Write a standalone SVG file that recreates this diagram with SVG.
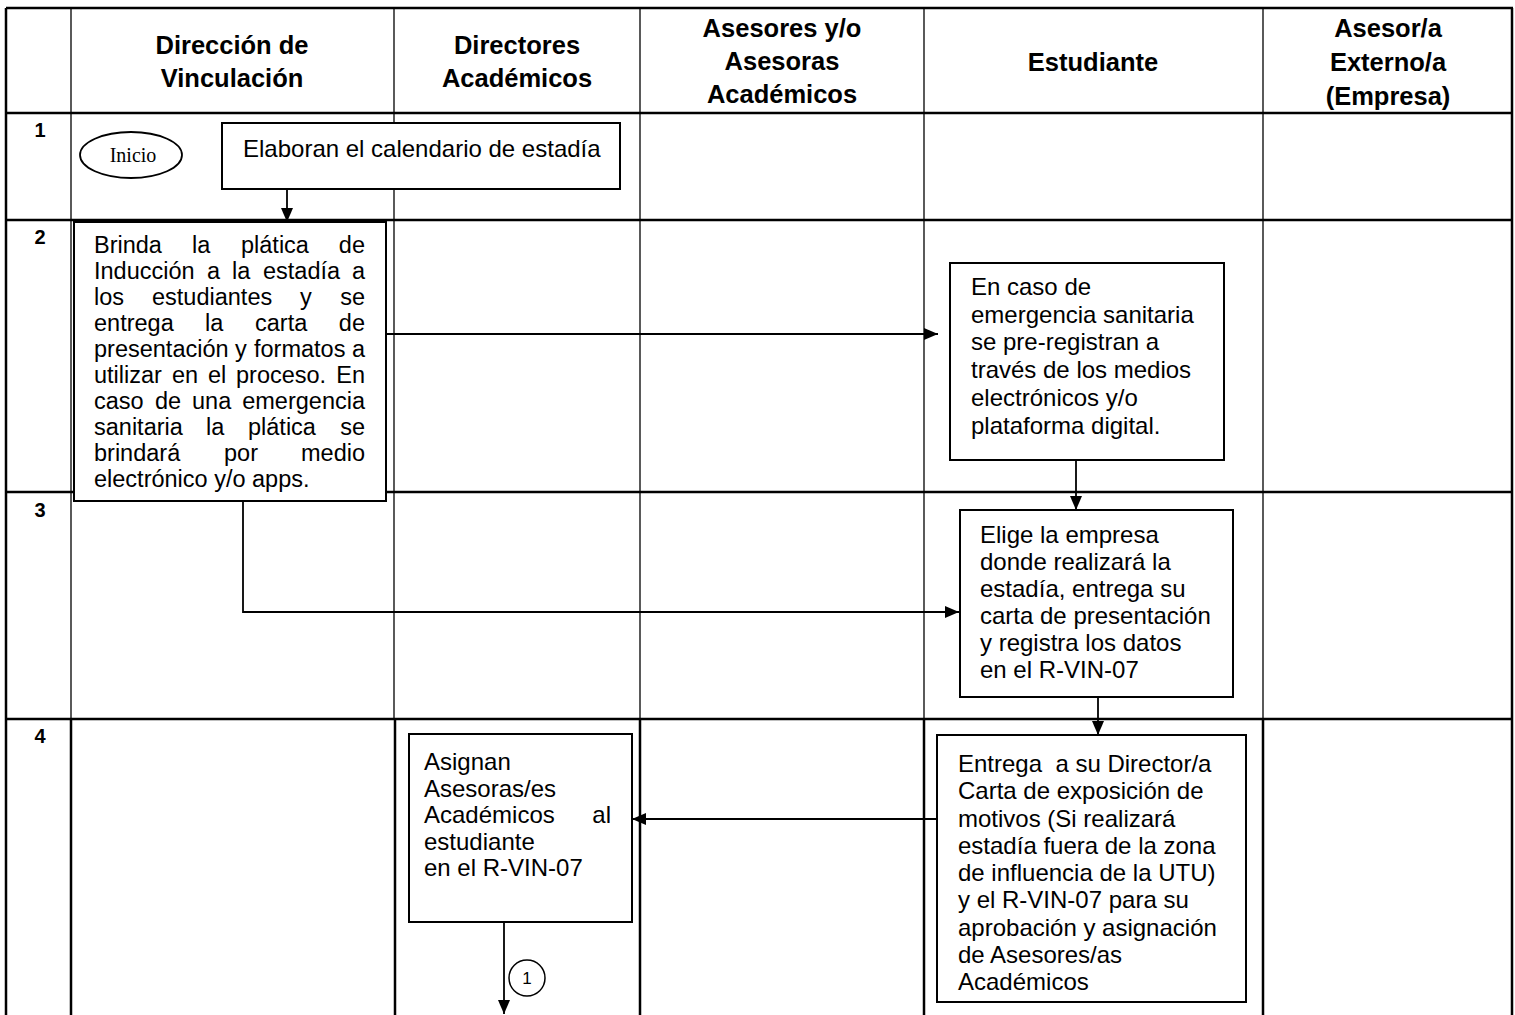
<svg xmlns="http://www.w3.org/2000/svg" width="1515" height="1015" viewBox="0 0 1515 1015">
<style>
.hd{font-family:"Liberation Sans",Arial,sans-serif;font-weight:bold;font-size:25.5px;text-anchor:middle;fill:#000}
.num{font-family:"Liberation Sans",Arial,sans-serif;font-weight:bold;font-size:20px;text-anchor:middle;fill:#000}
.tx{font-family:"Liberation Sans",Arial,sans-serif;font-size:24px;fill:#000}
.tj{font-family:"Liberation Sans",Arial,sans-serif;font-size:23.5px;fill:#000}
.e{text-anchor:end}
.box{fill:#fff;stroke:#000;stroke-width:2}
.hl{stroke:#000;stroke-width:2.5}
.vl{stroke:#000;stroke-width:1.3}
.vt{stroke:#000;stroke-width:2.5}
.cn{fill:none;stroke:#000;stroke-width:1.8}
</style>
<defs>
<marker id="ah" markerWidth="14" markerHeight="12" refX="14" refY="6" orient="auto" markerUnits="userSpaceOnUse"><path d="M0,0 L14,6 L0,12 z" fill="#000"/></marker>
</defs>
<rect width="1515" height="1015" fill="#fff"/>
<g id="grid">
<line class="hl" x1="6" y1="8" x2="1513" y2="8"/>
<line class="hl" x1="6" y1="113" x2="1513" y2="113"/>
<line class="hl" x1="6" y1="220" x2="1513" y2="220"/>
<line class="hl" x1="6" y1="492" x2="1513" y2="492"/>
<line class="hl" x1="6" y1="719" x2="1513" y2="719"/>
<line class="vt" x1="6" y1="8" x2="6" y2="1015"/>
<line class="vt" x1="1512" y1="8" x2="1512" y2="1015"/>
<line class="vl" x1="71" y1="8" x2="71" y2="719"/>
<line class="vl" x1="394" y1="8" x2="394" y2="719"/>
<line class="vl" x1="640" y1="8" x2="640" y2="719"/>
<line class="vl" x1="924" y1="8" x2="924" y2="719"/>
<line class="vl" x1="1263" y1="8" x2="1263" y2="719"/>
<line class="vt" x1="71" y1="719" x2="71" y2="1015"/>
<line class="vt" x1="395" y1="719" x2="395" y2="1015"/>
<line class="vt" x1="640" y1="719" x2="640" y2="1015"/>
<line class="vt" x1="924" y1="719" x2="924" y2="1015"/>
<line class="vt" x1="1263" y1="719" x2="1263" y2="1015"/>
<text class="hd" x="232" y="54">Dirección de</text>
<text class="hd" x="232" y="87">Vinculación</text>
<text class="hd" x="517" y="54">Directores</text>
<text class="hd" x="517" y="87">Académicos</text>
<text class="hd" x="782" y="37">Asesores y/o</text>
<text class="hd" x="782" y="70">Asesoras</text>
<text class="hd" x="782" y="103">Académicos</text>
<text class="hd" x="1093" y="71">Estudiante</text>
<text class="hd" x="1388" y="37">Asesor/a</text>
<text class="hd" x="1388" y="71">Externo/a</text>
<text class="hd" x="1388" y="105">(Empresa)</text>
<text class="num" x="40" y="137">1</text>
<text class="num" x="40" y="244">2</text>
<text class="num" x="40" y="517">3</text>
<text class="num" x="40" y="743">4</text>
</g>
<g id="connectors">
<line class="cn" x1="287" y1="190" x2="287" y2="222" marker-end="url(#ah)"/>
<line class="cn" x1="386" y1="334" x2="938" y2="334" marker-end="url(#ah)"/>
<polyline class="cn" points="243,501 243,612 959,612" marker-end="url(#ah)"/>
<line class="cn" x1="1076" y1="460" x2="1076" y2="510" marker-end="url(#ah)"/>
<line class="cn" x1="1098" y1="697" x2="1098" y2="735" marker-end="url(#ah)"/>
<line class="cn" x1="937" y1="819" x2="632" y2="819" marker-end="url(#ah)"/>
<line class="cn" x1="504" y1="922" x2="504" y2="1014" marker-end="url(#ah)"/>
</g>
<g id="inicio">
<ellipse cx="131" cy="155" rx="51" ry="23" fill="#fff" stroke="#000" stroke-width="1.8"/>
<text x="133" y="162" text-anchor="middle" style="font-family:'Liberation Serif','Times New Roman',serif;font-size:20px">Inicio</text>
</g>
<g id="calendario">
<rect class="box" x="222" y="123" width="398" height="66"/>
<text class="tx" x="243" y="157">Elaboran el calendario de estadía</text>
</g>
<g id="platica">
<rect class="box" x="74" y="222" width="312" height="279"/>
<text class="tj"><tspan x="94" y="253">Brinda</tspan><tspan x="192" y="253">la</tspan><tspan x="241" y="253">plática</tspan><tspan class="e" x="365" y="253">de</tspan></text>
<text class="tj"><tspan x="94" y="279">Inducción</tspan><tspan x="207" y="279">a</tspan><tspan x="232" y="279">la</tspan><tspan x="263" y="279">estadía</tspan><tspan class="e" x="365" y="279">a</tspan></text>
<text class="tj"><tspan x="94" y="305">los</tspan><tspan x="152" y="305">estudiantes</tspan><tspan x="300" y="305">y</tspan><tspan class="e" x="365" y="305">se</tspan></text>
<text class="tj"><tspan x="94" y="331">entrega</tspan><tspan x="205" y="331">la</tspan><tspan x="255" y="331">carta</tspan><tspan class="e" x="365" y="331">de</tspan></text>
<text class="tj"><tspan x="94" y="357">presentación</tspan><tspan x="235" y="357">y</tspan><tspan x="254" y="357">formatos</tspan><tspan class="e" x="365" y="357">a</tspan></text>
<text class="tj"><tspan x="94" y="383">utilizar</tspan><tspan x="172" y="383">en</tspan><tspan x="208" y="383">el</tspan><tspan x="236" y="383">proceso.</tspan><tspan class="e" x="365" y="383">En</tspan></text>
<text class="tj"><tspan x="94" y="409">caso</tspan><tspan x="155" y="409">de</tspan><tspan x="192" y="409">una</tspan><tspan class="e" x="365" y="409">emergencia</tspan></text>
<text class="tj"><tspan x="94" y="435">sanitaria</tspan><tspan x="206" y="435">la</tspan><tspan x="248" y="435">plática</tspan><tspan class="e" x="365" y="435">se</tspan></text>
<text class="tj"><tspan x="94" y="461">brindará</tspan><tspan x="224" y="461">por</tspan><tspan class="e" x="365" y="461">medio</tspan></text>
<text class="tj" x="94" y="487">electrónico y/o apps.</text>
</g>
<g id="preregistro">
<rect class="box" x="950" y="263" width="274" height="197"/>
<text class="tx"><tspan x="971" y="295">En caso de</tspan><tspan x="971" y="322.7">emergencia sanitaria</tspan><tspan x="971" y="350.4">se pre-registran a</tspan><tspan x="971" y="378.1">través de los medios</tspan><tspan x="971" y="405.8">electrónicos y/o</tspan><tspan x="971" y="433.5">plataforma digital.</tspan></text>
</g>
<g id="empresa">
<rect class="box" x="960" y="510" width="273" height="187"/>
<text class="tx"><tspan x="980" y="543">Elige la empresa</tspan><tspan x="980" y="570">donde realizará la</tspan><tspan x="980" y="597">estadía, entrega su</tspan><tspan x="980" y="624">carta de presentación</tspan><tspan x="980" y="651">y registra los datos</tspan><tspan x="980" y="678">en el R-VIN-07</tspan></text>
</g>
<g id="entrega">
<rect class="box" x="937" y="735" width="309" height="267"/>
<text class="tx" style="white-space:pre"><tspan x="958" y="772">Entrega  a su Director/a</tspan><tspan x="958" y="799.3">Carta de exposición de</tspan><tspan x="958" y="826.5">motivos (Si realizará</tspan><tspan x="958" y="853.8">estadía fuera de la zona</tspan><tspan x="958" y="881">de influencia de la UTU)</tspan><tspan x="958" y="908.3">y el R-VIN-07 para su</tspan><tspan x="958" y="935.5">aprobación y asignación</tspan><tspan x="958" y="962.8">de Asesores/as</tspan><tspan x="958" y="990">Académicos</tspan></text>
</g>
<g id="asignan">
<rect class="box" x="409" y="734" width="223" height="188"/>
<text class="tx"><tspan x="424" y="770">Asignan</tspan><tspan x="424" y="796.5">Asesoras/es</tspan><tspan x="424" y="823">Académicos</tspan><tspan class="e" x="611" y="823">al</tspan><tspan x="424" y="849.5">estudiante</tspan><tspan x="424" y="876">en el R-VIN-07</tspan></text>
</g>
<g id="conector1">
<circle cx="527" cy="978" r="18" fill="#fff" stroke="#000" stroke-width="1.5"/>
<text x="527" y="984" text-anchor="middle" style="font-family:'Liberation Sans',Arial,sans-serif;font-size:17px">1</text>
</g>
</svg>
